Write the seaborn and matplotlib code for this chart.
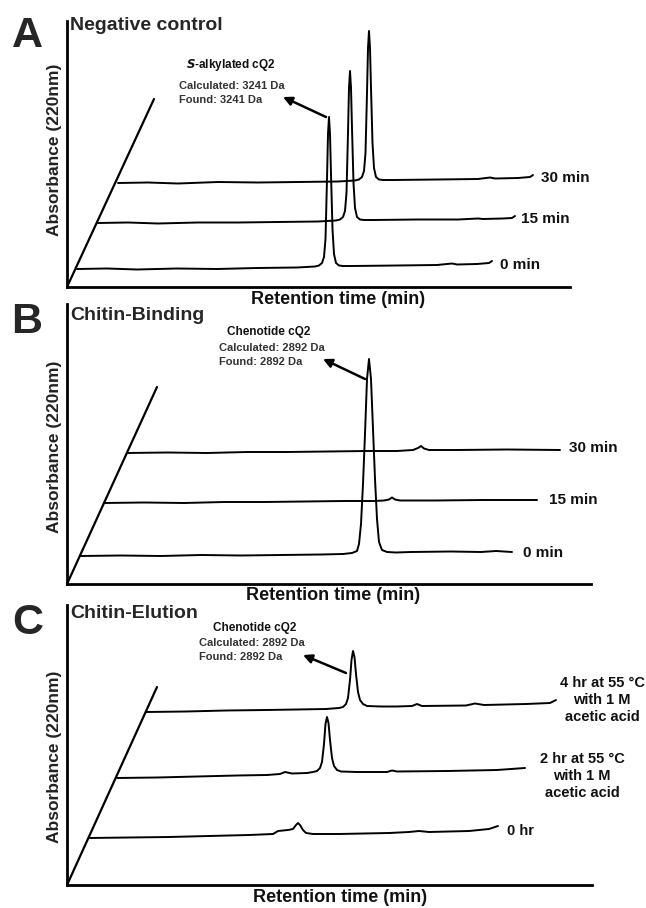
import numpy as np
import pandas as pd
import matplotlib
matplotlib.use("Agg")
import matplotlib.pyplot as plt
import seaborn as sns

sns.set_style("white")
plt.rcParams['font.family'] = ['Liberation Sans', 'DejaVu Sans']

# ---------------- data (trace-local retention / absorbance) ----------------
# Panel A: Negative control
A_names = ["0 min", "15 min", "30 min"]
A_dx = [10, 31, 51]          # waterfall offsets along depth axis
A_dy = [18, 64, 104]
A0_rt = [0, 30, 60, 100, 140, 180, 220, 238, 242, 245, 247, 248.5, 250, 251, 252, 253, 254, 255.5, 257, 259, 262, 266, 275, 320, 360, 375, 380, 400, 412, 415]
A0_ab = [0, 0.5, -0.5, 0.5, 0, 1, 1.5, 2.5, 3.5, 6, 12, 30, 90, 135, 152, 135, 95, 40, 15, 6, 3.5, 3, 3, 3.5, 4, 5.5, 4.5, 5, 6, 8]
A1_rt = [0, 30, 60, 100, 140, 180, 220, 238, 242, 245, 247, 248.5, 250, 251, 252, 253, 254, 255.5, 257, 259, 262, 266, 275, 320, 360, 380, 385, 405, 414, 417]
A1_ab = [0, 0.5, -0.5, 0.5, 0.5, 1, 1.5, 2.5, 3.5, 6, 12, 30, 90, 135, 152, 135, 95, 40, 15, 6, 3.5, 3, 3, 3.5, 3.5, 4.5, 4, 4.5, 5, 7]
A2_rt = [0, 30, 60, 100, 140, 180, 220, 237, 241, 244, 246, 247.5, 249, 250, 251, 252, 253, 254.5, 256, 258, 261, 265, 275, 320, 360, 372, 377, 400, 412, 415]
A2_ab = [0, 0.5, -0.5, 1, 0.5, 1, 1.5, 2.5, 3.5, 6, 12, 30, 90, 135, 152, 135, 95, 40, 15, 6, 3.5, 3, 3, 3.5, 4, 5.5, 4.5, 5, 6, 8]
A_rt = [A0_rt, A1_rt, A2_rt]
A_ab = [A0_ab, A1_ab, A2_ab]

# Panel B: Chitin-Binding
B_names = ["0 min", "15 min", "30 min"]
B_dx = [14, 37, 60]
B_dy = [28, 81, 131]
B0_rt = [0, 40, 80, 120, 160, 200, 240, 262, 271, 276, 278, 280, 282, 284, 286, 288, 290, 292, 294, 296, 298, 301, 306, 315, 330, 370, 400, 415, 431]
B0_ab = [0, 0.5, 0, 1, 0.5, 1, 1.5, 2, 3, 5, 12, 32, 72, 122, 177, 197, 177, 127, 77, 37, 14, 6, 4, 3.5, 4, 4.5, 4, 5, 4]
B1_rt = [0, 40, 80, 120, 160, 200, 240, 270, 280, 285, 288, 291, 296, 330, 380, 433]
B1_ab = [0, 0.5, 0, 1, 1, 1.5, 2, 2, 2.5, 3.5, 5.5, 3.5, 2.5, 2.5, 3, 3]
B2_rt = [0, 40, 80, 120, 160, 200, 240, 270, 286, 291, 294, 297, 302, 330, 380, 433]
B2_ab = [0, 0.5, 0, 1, 1, 1.5, 2, 2, 3, 5, 7, 4.5, 3, 3, 3.5, 3]
B_rt = [B0_rt, B1_rt, B2_rt]
B_ab = [B0_ab, B1_ab, B2_ab]

# Panel C: Chitin-Elution
C_names = ["0 hr", "2 hr at 55 \u00b0C\nwith 1 M\nacetic acid", "4 hr at 55 \u00b0C\nwith 1 M\nacetic acid"]
C_dx = [22, 50, 79]
C_dy = [47, 107, 173]
C0_rt = [0, 40, 80, 120, 160, 184, 189, 194, 199, 204, 207, 209, 211, 214, 217, 224, 250, 300, 320, 330, 340, 380, 400, 409]
C0_ab = [0, 0.5, 1, 2, 3, 4, 7, 7.5, 8, 9, 13, 15, 13, 8, 5, 4, 4, 5, 6, 7, 6, 7, 9, 12]
C1_rt = [0, 40, 80, 120, 150, 163, 168, 175, 190, 196, 200, 203, 205, 207, 208.5, 210, 211.5, 213, 215, 217, 220, 224, 240, 270, 275, 280, 330, 380, 408]
C1_ab = [0, 0.5, 1.5, 2.5, 3, 4, 6, 4.5, 5, 6, 7, 10, 16, 34, 54, 61, 55, 38, 20, 12, 8, 6.5, 6, 6, 7.5, 6.5, 7, 8, 10]
C2_rt = [0, 40, 80, 120, 150, 180, 193, 197, 200, 202, 204, 205.5, 207, 208.5, 210, 212, 214, 217, 221, 235, 250, 266, 271, 276, 320, 329, 338, 380, 404, 410]
C2_ab = [0, 0.5, 1.5, 2, 2.5, 3, 4, 5, 8, 14, 32, 52, 61, 55, 38, 20, 12, 8, 6, 5.5, 5.5, 6, 8, 6, 6.5, 8.5, 7, 8, 9, 12]
C_rt = [C0_rt, C1_rt, C2_rt]
C_ab = [C0_ab, C1_ab, C2_ab]

# depth (diagonal) axis end points
A_depth = [0, 87], [0, 188]
B_depth = [0, 90], [0, 197]
C_depth = [0, 90], [0, 198]

W, H = 646, 908
fig = plt.figure(figsize=(W / 100, H / 100), dpi=100)


def fr(x, y):
    return (x / W, 1 - y / H)


def draw_panel(ox, oy, rx, ty, names, dxs, dys, rts, abs_, depth, letter, letter_xy,
               title, title_xy, xlabel_xy, ylabel_xy, lab_pos, ann, lab_fs):
    ax = fig.add_axes([ox / W, 1 - oy / H, (rx - ox) / W, (oy - ty) / H])
    ax.patch.set_alpha(0)
    rows = []
    for n, dx, dy, rt, ab in zip(names, dxs, dys, rts, abs_):
        for r, a in zip(rt, ab):
            rows.append({"trace": n, "x": r + dx, "y": a + dy})
    df = pd.DataFrame(rows)
    sns.lineplot(data=df, x="x", y="y", units="trace", estimator=None, sort=False,
                 color="black", lw=1.4, ax=ax, clip_on=False)
    ddf = pd.DataFrame({"x": depth[0], "y": depth[1]})
    sns.lineplot(data=ddf, x="x", y="y", estimator=None, sort=False, color="black",
                 lw=1.6, ax=ax, clip_on=False)
    ax.set_xlim(0, rx - ox)
    ax.set_ylim(0, oy - ty)
    ax.set_xlabel("")
    ax.set_ylabel("")
    ax.set_xticks([])
    ax.set_yticks([])
    for s in ["top", "right"]:
        ax.spines[s].set_visible(False)
    for s in ["left", "bottom"]:
        ax.spines[s].set_linewidth(2.0)
        ax.spines[s].set_color("black")
    # labels at trace ends
    for n, (lx, ly, ha) in zip(names, lab_pos):
        fig.text(*fr(lx, ly), n, ha=ha, va="center", fontsize=lab_fs, fontweight="bold",
                 color="#111", linespacing=1.25)
    fig.text(*fr(*letter_xy), letter, ha="center", va="center", fontsize=31,
             fontweight="bold")
    fig.text(*fr(*title_xy), title, ha="left", va="center", fontsize=14,
             fontweight="bold")
    fig.text(*fr(*xlabel_xy), "Retention time (min)", ha="center", va="center",
             fontsize=13, fontweight="bold", color="#111")
    fig.text(*fr(*ylabel_xy), "Absorbance (220nm)", ha="center", va="center",
             fontsize=12.5, fontweight="bold", color="#222", rotation=90)
    (t1, t1xy), lines_xy, tail, head = ann
    fig.text(*fr(*t1xy), t1, ha="center", va="center", fontsize=8.5,
             fontweight="bold", color="#111")
    fig.text(*fr(*lines_xy[0][1]), lines_xy[0][0], ha="left", va="center",
             fontsize=8, fontweight="bold", color="#333")
    fig.text(*fr(*lines_xy[1][1]), lines_xy[1][0], ha="left", va="center",
             fontsize=8, fontweight="bold", color="#333")
    fig.add_artist(matplotlib.patches.FancyArrowPatch(
        fr(*tail), fr(*head), transform=fig.transFigure, arrowstyle="-|>",
        mutation_scale=13, lw=1.8, color="black", shrinkA=0, shrinkB=0))
    return ax


draw_panel(67, 287, 570, 21, A_names, A_dx, A_dy, A_rt, A_ab, A_depth,
           "A", (27, 36), "Negative control", (70, 25), (338, 299), (55, 150),
           [(500, 265, "left"), (521, 219, "left"), (541, 178, "left")],
           (("$\\bfit{S}$-alkylated cQ2", (231, 65)),
            [("Calculated: 3241 Da", (179, 86)), ("Found: 3241 Da", (179, 100))],
            (326, 117), (283, 97)), 11)

draw_panel(67, 584, 591, 304, B_names, B_dx, B_dy, B_rt, B_ab, B_depth,
           "B", (27, 322), "Chitin-Binding", (70, 315), (333, 596), (55, 447),
           [(523, 553, "left"), (549, 500, "left"), (569, 448, "left")],
           (("Chenotide cQ2", (269, 332)),
            [("Calculated: 2892 Da", (219, 348)), ("Found: 2892 Da", (219, 362))],
            (365, 379), (323, 359)), 11)

draw_panel(67, 885, 592, 605, C_names, C_dx, C_dy, C_rt, C_ab, C_depth,
           "C", (28, 623), "Chitin-Elution", (70, 614), (340, 898), (55, 757),
           [(507, 831, "left"), (582, 776, "center"), (602, 700, "center")],
           (("Chenotide cQ2", (255, 628)),
            [("Calculated: 2892 Da", (199, 643)), ("Found: 2892 Da", (199, 657))],
            (346, 673), (303, 655)), 10.5)

fig.savefig("out.png", dpi=100)
